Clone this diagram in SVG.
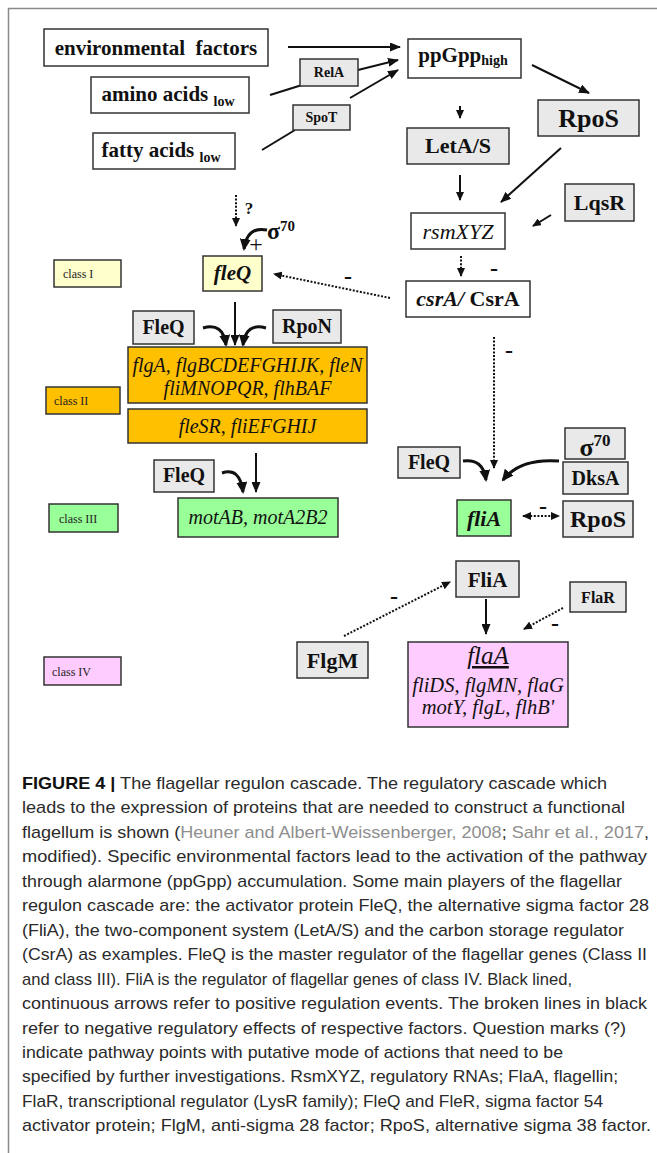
<svg xmlns="http://www.w3.org/2000/svg" width="657" height="1153" viewBox="0 0 657 1153">
<style>
.bg{fill:#ffffff}
.frame{stroke:#8a8a8a;stroke-width:1.5;fill:none}
.box{stroke:#333;stroke-width:1.5}
.w{fill:#ffffff}
.g{fill:#e9e9e9}
.y{fill:#ffffcc}
.o{fill:#ffc000}
.gr{fill:#99ff99}
.p{fill:#ffccff}
.t{font-family:"Liberation Serif","Times New Roman",serif;fill:#111;text-anchor:middle}
.b{font-weight:bold}
.i{font-style:italic}
.cls{font-family:"Liberation Serif","Times New Roman",serif;fill:#222;font-size:12px}
.a{stroke:#111;stroke-width:2;fill:none}
.d{stroke:#111;stroke-width:2;fill:none;stroke-dasharray:2 1.6}
.c{stroke:#111;stroke-width:3;fill:none}
.cap{font-family:"Liberation Sans",Arial,sans-serif;font-size:17px;fill:#2a2a2a}
.ref{fill:#8e8e8e}
</style>
<defs>
<marker id="ah" markerUnits="userSpaceOnUse" markerWidth="11" markerHeight="9" refX="10" refY="4.5" orient="auto">
<path d="M0,0 L11,4.5 L0,9 z" fill="#111"/>
</marker>
<marker id="ahs" markerUnits="userSpaceOnUse" markerWidth="9" markerHeight="8" refX="8" refY="4" orient="auto-start-reverse">
<path d="M0,0 L9,4 L0,8 z" fill="#111"/>
</marker>
<marker id="ahc" markerUnits="userSpaceOnUse" markerWidth="12" markerHeight="11" refX="10" refY="5.5" orient="auto">
<path d="M0,0 L12,5.5 L0,11 z" fill="#111"/>
</marker>
</defs>
<rect class="bg" x="0" y="0" width="657" height="1153"/>
<path class="frame" d="M8.5,1153 V8.5 H657"/>

<g id="connectors">
<line class="a" x1="288" y1="47" x2="400" y2="47" marker-end="url(#ah)"/>
<line class="a" x1="270" y1="95" x2="302" y2="85"/>
<line class="a" x1="358" y1="70" x2="398" y2="60" marker-end="url(#ah)"/>
<line class="a" x1="262" y1="150" x2="295" y2="130"/>
<line class="a" x1="350" y1="98" x2="398" y2="70" marker-end="url(#ah)"/>
<line class="a" x1="532" y1="65" x2="589" y2="93" marker-end="url(#ah)"/>
<line class="a" x1="460" y1="106" x2="460" y2="118" marker-end="url(#ahs)"/>
<line class="a" x1="460" y1="175" x2="460" y2="200" marker-end="url(#ahs)"/>
<line class="a" x1="561" y1="148" x2="501" y2="202" marker-end="url(#ah)"/>
<line class="a" x1="551" y1="215" x2="533" y2="226" marker-end="url(#ahs)"/>
<line class="d" x1="461" y1="256" x2="461" y2="276" marker-end="url(#ahs)"/>
<line class="d" x1="390" y1="298" x2="274" y2="274" marker-end="url(#ahs)"/>
<line class="d" x1="236" y1="195" x2="236" y2="226" marker-end="url(#ahs)"/>
<path class="c" d="M267,230 Q247,226 244,249" marker-end="url(#ahc)"/>
<line class="a" x1="235" y1="302" x2="235" y2="345" marker-end="url(#ah)"/>
<path class="c" d="M203,328 Q223,322 226,345" marker-end="url(#ahc)"/>
<path class="c" d="M266,328 Q246,322 243,345" marker-end="url(#ahc)"/>
<line class="d" x1="494" y1="337" x2="494" y2="468" marker-end="url(#ahs)"/>
<line class="a" x1="256" y1="453" x2="256" y2="492" marker-end="url(#ah)"/>
<path class="c" d="M222,473 Q240,467 243,492" marker-end="url(#ahc)"/>
<path class="c" d="M463,461 Q483,458 486,480" marker-end="url(#ahc)"/>
<path class="c" d="M559,461 Q520,458 503,480" marker-end="url(#ahc)"/>
<line class="d" x1="523" y1="516" x2="559" y2="516" marker-start="url(#ahs)" marker-end="url(#ahs)"/>
<line class="d" x1="344" y1="636" x2="450" y2="582" marker-end="url(#ahs)"/>
<line class="a" x1="486" y1="599" x2="486" y2="634" marker-end="url(#ah)"/>
<line class="d" x1="563" y1="608" x2="524" y2="629" marker-end="url(#ahs)"/>
<g class="t b" font-size="24">
<text x="494" y="276">-</text>
<text x="348" y="284">-</text>
<text x="509" y="358">-</text>
<text x="543" y="514">-</text>
<text x="394" y="604">-</text>
<text x="555" y="631">-</text>
</g>
<text class="t b" x="249" y="214" font-size="17">?</text>
<text class="t" x="256" y="252" font-size="24">+</text>
<text class="t b" x="281" y="239" font-size="24" text-anchor="start">σ<tspan font-size="15" dy="-8">70</tspan></text>
</g>

<g id="n-env"><rect class="box w" x="44" y="29" width="224" height="37"/><text class="t b" x="156" y="55" font-size="21" xml:space="preserve">environmental  factors</text></g>
<g id="n-ppgpp"><rect class="box w" x="408" y="39" width="113" height="39"/><text class="t b" x="463" y="62" font-size="21">ppGpp<tspan font-size="14" dy="3">high</tspan></text></g>
<g id="n-rela"><rect class="box g" x="300" y="59" width="58" height="27"/><text class="t b" x="329" y="77" font-size="14">RelA</text></g>
<g id="n-amino"><rect class="box w" x="91" y="77" width="158" height="36"/><text class="t b" x="168" y="101" font-size="21">amino acids <tspan font-size="14" dy="5">low</tspan></text></g>
<g id="n-spot"><rect class="box g" x="293" y="105" width="57" height="25"/><text class="t b" x="321.5" y="122" font-size="14">SpoT</text></g>
<g id="n-fatty"><rect class="box w" x="93" y="133" width="142" height="36"/><text class="t b" x="161" y="157" font-size="21">fatty acids <tspan font-size="14" dy="5">low</tspan></text></g>
<g id="n-leta"><rect class="box g" x="407" y="128" width="102" height="36"/><text class="t b" x="458" y="153" font-size="22">LetA/S</text></g>
<g id="n-rpos1"><rect class="box g" x="538" y="100" width="101" height="36"/><text class="t b" x="588.5" y="127" font-size="26">RpoS</text></g>
<g id="n-lqsr"><rect class="box g" x="565" y="184" width="69" height="37"/><text class="t b" x="599.5" y="210" font-size="22">LqsR</text></g>
<g id="n-rsm"><rect class="box w" x="411" y="213" width="94" height="36"/><text class="t i" x="458" y="239" font-size="22">rsmXYZ</text></g>
<g id="n-csra"><rect class="box w" x="406" y="281" width="124" height="36"/><text class="t b" x="468" y="306" font-size="22"><tspan class="i">csrA/</tspan> CsrA</text></g>
<g id="n-classI"><rect class="box y" x="54" y="260" width="67" height="27"/><text class="cls" x="63" y="278">class I</text></g>
<g id="n-fleq"><rect class="box y" x="203" y="256" width="59" height="35"/><text class="t b i" x="232.5" y="280" font-size="21">fleQ</text></g>
<g id="n-fleq1"><rect class="box g" x="133" y="311" width="61" height="33"/><text class="t b" x="163.5" y="334" font-size="20">FleQ</text></g>
<g id="n-rpon"><rect class="box g" x="273" y="310" width="68" height="33"/><text class="t b" x="307" y="333" font-size="20">RpoN</text></g>
<g id="n-classII-genes1"><rect class="box o" x="128" y="347" width="239" height="56"/><text class="t i" x="247.5" y="372" font-size="20">flgA, flgBCDEFGHIJK, fleN</text><text class="t i" x="247.5" y="395" font-size="20">fliMNOPQR, flhBAF</text></g>
<g id="n-classII-genes2"><rect class="box o" x="128" y="409" width="239" height="34"/><text class="t i" x="247.5" y="433" font-size="20">fleSR, fliEFGHIJ</text></g>
<g id="n-classII"><rect class="box o" x="46" y="387" width="74" height="27"/><text class="cls" x="54" y="405">class II</text></g>
<g id="n-fleq2"><rect class="box g" x="154" y="460" width="60" height="32"/><text class="t b" x="184" y="482" font-size="20">FleQ</text></g>
<g id="n-mot"><rect class="box gr" x="178" y="498" width="160" height="39"/><text class="t i" x="258" y="524" font-size="20">motAB, motA2B2</text></g>
<g id="n-classIII"><rect class="box gr" x="49" y="504" width="69" height="28"/><text class="cls" x="59" y="523">class III</text></g>
<g id="n-fleq3"><rect class="box g" x="398" y="447" width="62" height="31"/><text class="t b" x="429" y="469" font-size="20">FleQ</text></g>
<g id="n-sigma"><rect class="box g" x="565" y="428" width="60" height="31"/><text class="t b" x="595" y="456" font-size="26">σ<tspan font-size="17" dy="-10">70</tspan></text></g>
<g id="n-dksa"><rect class="box g" x="563" y="462" width="65" height="32"/><text class="t b" x="595.5" y="485" font-size="20">DksA</text></g>
<g id="n-flia-gene"><rect class="box gr" x="457" y="500" width="54" height="36"/><text class="t b i" x="484" y="526" font-size="22">fliA</text></g>
<g id="n-rpos2"><rect class="box g" x="563" y="501" width="70" height="36"/><text class="t b" x="598" y="527" font-size="24">RpoS</text></g>
<g id="n-flia"><rect class="box g" x="456" y="561" width="63" height="36"/><text class="t b" x="487.5" y="587" font-size="21">FliA</text></g>
<g id="n-flar"><rect class="box g" x="570" y="582" width="56" height="30"/><text class="t b" x="598" y="603" font-size="16">FlaR</text></g>
<g id="n-flgm"><rect class="box g" x="297" y="642" width="71" height="36"/><text class="t b" x="332.5" y="668" font-size="22">FlgM</text></g>
<g id="n-flaa"><rect class="box p" x="408" y="642" width="160" height="85"/><text class="t i" x="488" y="664" font-size="25" text-decoration="underline">flaA</text><text class="t i" x="488" y="692" font-size="20.5">fliDS, flgMN, flaG</text><text class="t i" x="488" y="714" font-size="20.5">motY, flgL, flhB'</text></g>
<g id="n-classIV"><rect class="box p" x="44" y="657" width="77" height="28"/><text class="cls" x="52" y="676">class IV</text></g>

<g id="caption" class="cap">
<text x="22" y="789" textLength="585" lengthAdjust="spacingAndGlyphs"><tspan font-weight="bold" fill="#111">FIGURE 4 |</tspan> The flagellar regulon cascade. The regulatory cascade which</text>
<text x="22" y="813.4" textLength="603" lengthAdjust="spacingAndGlyphs">leads to the expression of proteins that are needed to construct a functional</text>
<text x="22" y="837.9" textLength="627" lengthAdjust="spacingAndGlyphs">flagellum is shown (<tspan class="ref">Heuner and Albert-Weissenberger, 2008</tspan>; <tspan class="ref">Sahr et al., 2017</tspan>,</text>
<text x="22" y="862.3" textLength="625" lengthAdjust="spacingAndGlyphs">modified). Specific environmental factors lead to the activation of the pathway</text>
<text x="22" y="886.8" textLength="600" lengthAdjust="spacingAndGlyphs">through alarmone (ppGpp) accumulation. Some main players of the flagellar</text>
<text x="22" y="911.2" textLength="627" lengthAdjust="spacingAndGlyphs">regulon cascade are: the activator protein FleQ, the alternative sigma factor 28</text>
<text x="22" y="935.7" textLength="602" lengthAdjust="spacingAndGlyphs">(FliA), the two-component system (LetA/S) and the carbon storage regulator</text>
<text x="22" y="960.1" textLength="625" lengthAdjust="spacingAndGlyphs">(CsrA) as examples. FleQ is the master regulator of the flagellar genes (Class II</text>
<text x="22" y="984.6" textLength="550" lengthAdjust="spacingAndGlyphs">and class III). FliA is the regulator of flagellar genes of class IV. Black lined,</text>
<text x="22" y="1009" textLength="625" lengthAdjust="spacingAndGlyphs">continuous arrows refer to positive regulation events. The broken lines in black</text>
<text x="22" y="1033.5" textLength="604" lengthAdjust="spacingAndGlyphs">refer to negative regulatory effects of respective factors. Question marks (?)</text>
<text x="22" y="1057.9" textLength="541" lengthAdjust="spacingAndGlyphs">indicate pathway points with putative mode of actions that need to be</text>
<text x="22" y="1082.4" textLength="596" lengthAdjust="spacingAndGlyphs">specified by further investigations. RsmXYZ, regulatory RNAs; FlaA, flagellin;</text>
<text x="22" y="1106.8" textLength="581" lengthAdjust="spacingAndGlyphs">FlaR, transcriptional regulator (LysR family); FleQ and FleR, sigma factor 54</text>
<text x="22" y="1131.3" textLength="629" lengthAdjust="spacingAndGlyphs">activator protein; FlgM, anti-sigma 28 factor; RpoS, alternative sigma 38 factor.</text>
</g>
</svg>
